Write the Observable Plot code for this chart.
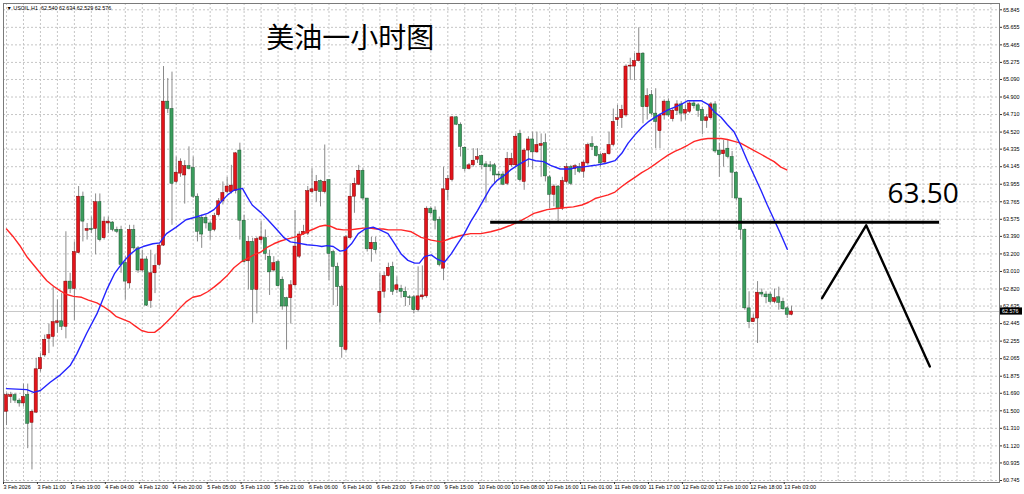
<!DOCTYPE html>
<html><head><meta charset="utf-8">
<script src="https://cdn.jsdelivr.net/npm/d3@7"></script>
<script src="https://cdn.jsdelivr.net/npm/@observablehq/plot@0.6"></script>
<style>body{margin:0;background:#fff;overflow:hidden} svg{display:block}</style>
</head><body><div id="chart"></div>
<script>
// ---- hourly candles (USOIL H1) ----
const opens = [
61.49,61.65,61.67,61.61,61.58,61.67,61.37,61.48,61.95,62.10,
62.28,62.30,62.45,62.47,62.41,62.90,62.82,63.21,63.82,63.45,
63.47,63.47,63.76,63.37,63.53,63.54,63.46,63.46,63.10,62.88,
63.46,63.26,63.02,63.14,62.69,62.99,63.08,63.29,64.85,64.77,
63.98,64.07,64.05,64.15,64.13,63.82,63.59,63.59,63.53,63.46,
63.62,63.77,63.87,63.87,63.88,64.32,63.56,63.12,63.33,62.81,
63.35,63.37,63.17,63.02,63.11,62.92,62.72,62.72,62.86,63.17,
63.41,63.42,63.87,63.88,63.99,63.87,64.00,63.22,63.06,62.84,
62.16,63.37,63.82,63.95,64.10,63.80,63.25,63.32,62.56,62.79,
62.96,63.06,62.81,62.82,62.79,62.73,62.73,62.59,62.73,62.74,
63.69,63.67,63.57,63.04,63.89,64.00,64.68,64.60,64.35,64.12,
64.16,64.22,64.26,64.17,64.16,64.16,64.06,64.06,63.96,64.16,
64.16,64.50,63.98,64.32,64.44,64.30,64.37,64.40,64.03,63.84,
63.93,63.69,63.98,64.14,64.12,64.14,64.09,64.18,64.39,64.36,
64.27,64.19,64.28,64.38,64.65,64.67,64.70,65.23,65.23,65.29,
65.37,64.79,64.92,64.72,64.53,64.70,64.85,64.66,64.75,64.82,
64.72,64.74,64.83,64.81,64.76,64.64,64.67,64.82,64.32,64.28,
64.34,64.25,64.08,63.80,63.46,62.61,62.46,62.50,62.78,62.76,
62.76,62.68,62.73,62.68,62.61,62.540];
const highs = [
61.69,61.70,61.69,61.63,61.79,61.79,61.51,62.07,62.12,62.32,
62.44,62.84,62.70,62.77,63.44,62.99,63.33,63.93,63.87,63.53,
63.60,63.85,63.85,63.60,63.60,63.55,63.49,63.50,63.17,63.51,
63.51,63.28,63.24,63.17,63.24,63.19,63.31,65.23,65.10,65.17,
64.25,64.23,64.21,64.36,64.25,63.85,63.62,63.62,63.55,63.64,
63.80,63.98,64.03,64.16,64.30,64.40,63.62,63.39,63.37,63.38,
63.55,63.46,63.24,63.17,63.13,62.95,62.73,62.91,63.67,63.44,
63.51,63.93,64.12,64.05,64.00,64.38,64.00,63.24,63.10,62.86,
63.40,63.96,64.02,64.16,64.12,63.80,63.38,63.38,62.99,63.00,
63.10,63.11,62.95,62.86,62.84,62.75,62.75,63.06,63.07,63.71,
63.71,63.71,63.60,64.14,64.05,64.69,64.69,64.62,64.36,64.18,
64.34,64.34,64.27,64.20,64.20,64.18,64.09,64.09,64.30,64.29,
64.50,64.54,64.34,64.47,64.52,64.52,64.50,64.50,64.05,63.95,
63.94,64.03,64.18,64.16,64.17,64.18,64.21,64.40,64.47,64.37,
64.29,64.29,64.52,64.77,64.81,64.81,65.25,65.32,65.37,65.65,
65.38,64.99,64.97,64.99,64.72,64.87,64.88,64.77,64.86,64.85,
64.81,64.85,64.86,64.83,64.79,64.71,64.84,64.85,64.40,64.43,
64.43,64.31,64.09,63.80,63.47,62.79,62.55,62.90,62.82,62.79,
62.78,62.82,62.84,62.72,62.63,62.634];
const lows = [
61.34,61.58,61.58,61.54,61.54,61.09,60.86,61.47,61.92,62.08,
62.12,62.19,62.34,62.37,62.28,62.77,62.48,63.20,63.33,63.35,
63.42,63.19,63.33,63.35,63.42,63.44,63.42,62.99,62.70,62.82,
63.24,62.99,63.00,62.63,62.61,62.77,63.06,63.28,64.72,63.51,
63.96,64.03,63.74,64.11,63.80,63.33,63.26,63.47,63.35,63.44,
63.60,63.73,63.85,63.85,63.85,63.35,63.10,62.81,62.45,62.55,
63.31,63.13,62.75,63.00,62.84,62.59,62.16,62.44,62.84,63.15,
63.40,63.40,63.85,63.76,63.71,63.85,62.91,62.64,62.63,62.07,
62.14,63.35,63.64,63.94,63.78,63.22,63.11,63.20,62.45,62.72,
62.95,62.75,62.77,62.72,62.63,62.64,62.55,62.57,62.70,62.72,
63.62,63.46,63.06,62.91,63.78,63.98,64.59,64.25,64.09,64.11,
64.14,64.18,64.11,63.75,64.09,63.96,64.00,63.94,63.94,64.14,
64.14,63.98,63.89,64.14,64.11,64.29,64.03,63.98,63.69,63.71,
63.55,63.67,63.96,63.94,64.05,64.07,64.02,64.16,64.32,64.25,
64.14,64.17,64.27,64.36,64.58,64.56,64.68,65.08,65.08,65.28,
64.61,64.65,64.70,64.34,64.34,64.65,64.68,64.63,64.70,64.63,
64.65,64.72,64.77,64.68,64.49,64.56,64.65,64.29,64.03,64.14,
64.23,63.80,63.78,63.35,62.59,62.39,62.46,62.23,62.73,62.66,
62.66,62.66,62.59,62.59,62.50,62.529];
const closes = [
61.67,61.67,61.61,61.58,61.65,61.36,61.49,61.95,62.07,62.27,
62.32,62.46,62.47,62.41,62.90,62.82,63.22,63.82,63.55,63.47,
63.46,63.76,63.35,63.55,63.55,63.46,63.44,63.08,62.90,63.46,
63.26,63.02,63.14,62.64,62.99,63.07,63.29,64.85,64.77,63.96,
64.08,64.20,64.15,64.12,63.82,63.44,63.41,63.53,63.45,63.61,
63.77,63.86,63.93,63.94,64.29,63.56,63.11,63.33,62.81,63.36,
63.38,63.20,63.00,63.10,62.85,62.63,62.63,62.86,63.28,63.41,
63.44,63.88,63.90,63.98,63.87,63.98,63.20,63.06,62.84,62.19,
63.38,63.82,63.96,64.10,63.80,63.25,63.32,63.24,62.79,62.96,
63.05,62.79,62.86,62.79,62.73,62.72,62.59,62.74,62.75,63.69,
63.64,63.56,63.08,63.90,64.01,64.68,64.60,64.36,64.12,64.16,
64.21,64.25,64.16,64.14,64.14,64.05,64.05,63.95,64.23,64.23,
64.47,64.00,64.32,64.44,64.30,64.38,64.39,64.04,63.84,63.93,
63.69,63.99,64.14,63.96,64.15,64.09,64.19,64.38,64.36,64.26,
64.18,64.28,64.38,64.63,64.67,64.76,65.23,65.24,65.29,65.37,
64.79,64.91,64.72,64.63,64.70,64.85,64.70,64.75,64.82,64.72,
64.76,64.83,64.80,64.75,64.64,64.68,64.82,64.31,64.27,64.32,
64.25,64.08,63.80,63.46,62.61,62.46,62.50,62.78,62.76,62.73,
62.68,62.72,62.67,62.60,62.54,62.576];

// ---- moving averages (bar index, price) ----
const blueIdx = [0,4.8,6.4,8,10.3,12.7,15,16.6,18.9,21.3,23.6,25.5,27.1,29,30.6,32.2,34.5,36.1,37.7,40,42.3,44.7,
 47.4,48.9,50.5,52.1,53.6,55.6,56.7,57.9,59.9,61.8,63.8,65.3,66.9,68.4,70.8,73.1,74.3,75.5,77,78.6,79.8,81.3,82.9,84.5,86.4,88,
 89.9,91.5,93,94.6,96.2,97.3,98.5,100.1,101.6,103.2,104.8,106.3,107.9,109.4,111,112.6,114.1,115.7,117.3,118.8,120.4,121.9,123.1,124.7,126.6,128.2,130.5,132.9,134.4,
 135.6,138.7,141.1,143.4,145,146.5,148.1,149.7,151.2,152.8,154.3,155.9,157.5,159,160.6,162.1,163.7,165.3,166.8,168.4,169.9,171.5,173,174.6,176.2,177.8,179.3,180.9,182.5,184];
const blueVal = [61.74,61.73,61.70,61.72,61.81,61.89,61.99,62.12,62.34,62.55,62.81,62.99,63.09,63.19,63.25,63.28,63.31,63.32,63.42,63.49,63.57,63.60,
 63.64,63.68,63.76,63.84,63.89,63.91,63.82,63.73,63.65,63.56,63.46,63.38,63.33,63.32,63.30,63.29,63.28,63.29,63.28,63.23,63.24,63.31,63.42,63.47,63.49,63.46,
 63.42,63.31,63.20,63.13,63.10,63.10,63.17,63.19,63.14,63.11,63.20,63.31,63.42,63.55,63.67,63.80,63.92,64.00,64.05,64.11,64.16,64.20,64.23,64.21,64.20,64.16,64.12,64.12,64.14,
 64.14,64.16,64.18,64.21,64.29,64.40,64.49,64.57,64.63,64.68,64.72,64.76,64.79,64.82,64.86,64.86,64.86,64.82,64.74,64.68,64.60,64.52,64.38,64.21,64.05,63.89,63.73,63.57,63.41,63.25];
const redIdx = [0,1.7,3.3,4.8,6.4,8,9.5,11.1,12.7,14.2,15.8,17.7,19.3,21.3,22.8,24.4,25.9,27.5,29.1,30.6,31.8,33.4,34.9,36.1,37.7,39.2,40.8,42.3,43.9,
 45.8,47.4,48.9,50.5,52.1,53.6,55.2,56.7,58.3,59.9,61.4,63,64.6,66.1,67.7,69.2,70.8,72.4,73.9,75.1,76.3,77.8,79.4,81,82.5,84.1,85.6,87.2,88.8,
 90,93,95.4,97.7,100.1,102.4,104.8,107.1,109.4,111.8,114.1,116.5,118.8,121.2,122.8,124.3,125.9,127.4,129,131.3,133.6,
 135.6,137.2,138.7,140.3,141.8,143.4,145,146.5,148.1,149.7,151.2,152.8,154.3,155.9,157.5,159,160.6,162.1,163.7,165.3,166.8,168.4,169.9,171.5,173,174.6,176.2,177.8,179.3,180.9,182.5,183.9];
const redVal = [63.47,63.38,63.28,63.17,63.08,62.99,62.91,62.85,62.80,62.76,62.74,62.73,62.70,62.67,62.63,62.58,62.52,62.49,62.46,62.41,62.37,62.35,62.35,62.39,62.46,62.53,62.61,62.68,62.73,
 62.75,62.79,62.84,62.90,62.97,63.05,63.11,63.15,63.19,63.22,63.27,63.31,63.34,63.36,63.38,63.40,63.44,63.47,63.50,63.51,63.50,63.47,63.46,63.46,63.47,63.48,63.48,63.47,63.47,
 63.46,63.46,63.44,63.38,63.35,63.33,63.37,63.40,63.42,63.42,63.44,63.47,63.51,63.56,63.60,63.64,63.66,63.68,63.69,63.70,63.71,
 63.73,63.76,63.80,63.82,63.84,63.87,63.93,63.98,64.03,64.08,64.12,64.17,64.22,64.27,64.31,64.34,64.38,64.42,64.44,64.45,64.45,64.45,64.44,64.42,64.40,64.36,64.32,64.28,64.24,64.20,64.14,64.11];

// ---- axes ----
const yTicks = [65.845,65.655,65.465,65.275,65.090,64.900,64.710,64.520,64.335,64.145,63.955,63.765,63.575,63.390,
 63.200,63.010,62.820,62.635,62.445,62.255,62.065,61.875,61.690,61.500,61.310,61.120,60.935,60.745];
const timeLabels = ["3 Feb 2026","3 Feb 11:00","3 Feb 19:00","4 Feb 04:00","4 Feb 12:00","4 Feb 20:00","5 Feb 05:00",
 "5 Feb 13:00","5 Feb 21:00","6 Feb 06:00","6 Feb 14:00","6 Feb 23:00","9 Feb 07:00","9 Feb 15:00","10 Feb 00:00",
 "10 Feb 08:00","10 Feb 16:00","11 Feb 01:00","11 Feb 09:00","11 Feb 17:00","12 Feb 02:00","12 Feb 10:00","12 Feb 18:00","13 Feb 03:00"];
const labelBars = timeLabels.map((_, k) => k * 8);
const gridBars = d3.range(0, 236, 4);

// ---- annotations ----
const headerText = "▼ USOIL,H1  62.540 62.634 62.529 62.576";
const titleText = "美油一小时图";
const levelText = "63.50";
const levelPrice = 63.544, levelFrom = 114.1, levelTo = 219.9;
const zigBars = [192.2, 202.6, 217.6];
const zigPrices = [62.72, 63.51, 61.98];

const bars = opens.map((o, i) => ({i, open: o, high: highs[i], low: lows[i], close: closes[i]}));
const upBars = bars.filter(d => d.close >= d.open);
const downBars = bars.filter(d => d.close < d.open);
const blue = blueIdx.map((x, k) => ({x, y: blueVal[k]}));
const red = redIdx.map((x, k) => ({x, y: redVal[k]}));
const zig = zigBars.map((x, k) => ({x, y: zigPrices[k]}));
const lastClose = closes[closes.length - 1];
const hw = 0.37;
const grid = {stroke: "#c6c6c6", strokeOpacity: 1, strokeDasharray: "2,2", strokeWidth: 1};

const chart = Plot.plot({
  width: 1024, height: 494,
  marginLeft: 3, marginRight: 25, marginTop: 3, marginBottom: 12,
  x: {type: "linear", domain: [0, 185], range: [6, 791]},
  y: {type: "linear", domain: [60.745, 65.845], range: [480, 9.3]},
  style: {fontFamily: "'Liberation Sans', Arial, sans-serif", fontSize: "5.4px", background: "#fff", color: "#000", overflow: "visible"},
  marks: [
    Plot.gridY(yTicks, grid),
    Plot.gridX(gridBars, grid),
    Plot.ruleY([lastClose], {stroke: "#c8c8c8", strokeWidth: 1}),
    Plot.frame({stroke: "#7a7a7a"}),
    Plot.axisY(yTicks, {anchor: "right", tickSize: 2, tickPadding: 1.5, tickFormat: d => d.toFixed(3), stroke: "#333"}),
    Plot.axisX(labelBars, {anchor: "bottom", tickSize: 2, tickPadding: 0.5, textAnchor: "start", dx: -3,
      tickFormat: d => timeLabels[labelBars.indexOf(d)], stroke: "#333"}),
    Plot.ruleX(bars, {x: "i", y1: "low", y2: "high", stroke: "#8a8a8a", strokeWidth: 1}),
    Plot.rect(upBars, {x1: d => d.i - hw, x2: d => d.i + hw, y1: "open", y2: "close", fill: "#e3141b", stroke: "#7a0000", strokeWidth: 0.5}),
    Plot.rect(downBars, {x1: d => d.i - hw, x2: d => d.i + hw, y1: "open", y2: "close", fill: "#3a9c5c", stroke: "#1c5530", strokeWidth: 0.5}),
    Plot.line(red, {x: "x", y: "y", stroke: "#ff2626", strokeWidth: 1.4}),
    Plot.line(blue, {x: "x", y: "y", stroke: "#2424ff", strokeWidth: 1.4}),
    Plot.ruleY([{y: levelPrice, x1: levelFrom, x2: levelTo}], {y: "y", x1: "x1", x2: "x2", stroke: "#000", strokeWidth: 3}),
    Plot.line(zig, {x: "x", y: "y", stroke: "#000", strokeWidth: 2.4}),
    Plot.text([levelText], {x: 207.6, y: 63.85, textAnchor: "start", fontSize: 28, fill: "#000", fontFamily: "'Open Sans', sans-serif"}),
    Plot.text([titleText], {x: 61.2, y: 65.53, textAnchor: "start", fontSize: 28, fill: "#000", fontFamily: "'Noto Sans CJK SC', sans-serif"}),
    Plot.text([headerText], {frameAnchor: "top-left", dx: 3, dy: 2.5, textAnchor: "start", fontSize: 5.4, fill: "#000"})
  ]
});

// current-price tag on the price axis
const ys = chart.scale("y").apply(lastClose);
const svg = d3.select(chart);
svg.append("rect").attr("x", 1000).attr("y", ys - 3.6).attr("width", 22).attr("height", 7.2).attr("fill", "#000");
svg.append("text").attr("x", 1002).attr("y", ys).attr("dy", "0.35em").attr("fill", "#fff")
  .attr("text-anchor", "start")
  .attr("font-size", 5.4).attr("font-family", "'Liberation Sans', Arial, sans-serif").text(lastClose.toFixed(3));

document.getElementById("chart").appendChild(chart);
</script>
</body></html>
